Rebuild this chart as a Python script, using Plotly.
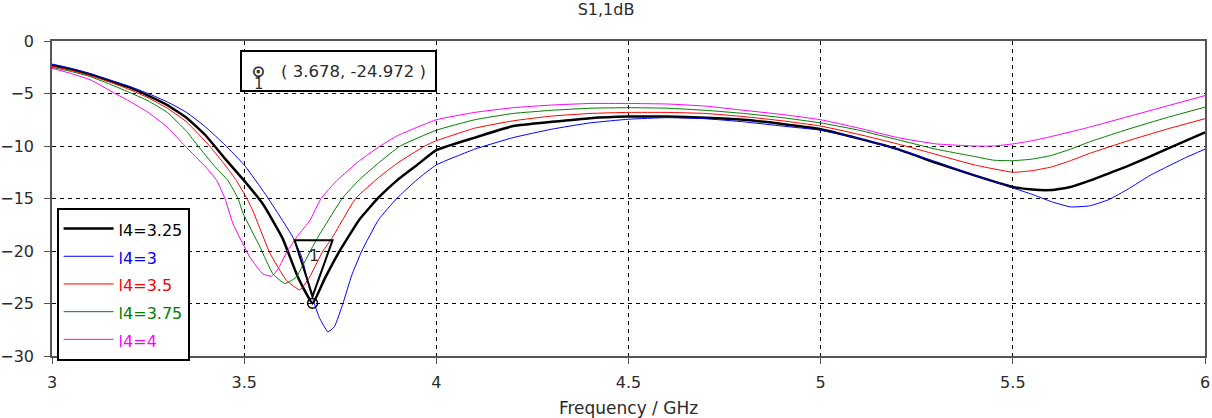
import plotly.graph_objects as go

# S11 sweeps over l4
freq_325 = [3.0, 3.05, 3.1, 3.15, 3.2, 3.25, 3.3, 3.35, 3.4, 3.45, 3.5, 3.55, 3.6, 3.64, 3.678, 3.71, 3.75, 3.8, 3.85, 3.9, 3.95, 4.0,
            4.1, 4.2, 4.3, 4.4, 4.5, 4.6, 4.7, 4.8, 4.9, 5.0, 5.1, 5.2, 5.3, 5.4, 5.5, 5.55, 5.6, 5.65, 5.7, 5.75, 5.8, 5.9, 6.0]
s11_325 = [-2.3, -2.7, -3.2, -3.8, -4.4, -5.2, -6.1, -7.3, -9.0, -11.2, -13.3, -15.6, -18.8, -22.5, -24.972, -22.6, -19.9, -17.0, -14.9, -13.2, -11.8, -10.4,
           -9.2, -8.1, -7.7, -7.35, -7.2, -7.2, -7.3, -7.5, -7.9, -8.4, -9.3, -10.3, -11.6, -12.8, -13.9, -14.15, -14.2, -13.9, -13.3, -12.6, -11.9, -10.3, -8.7]

freq_3 = [3.0, 3.05, 3.1, 3.15, 3.2, 3.25, 3.3, 3.35, 3.4, 3.45, 3.5, 3.54, 3.56, 3.6, 3.627, 3.65, 3.671, 3.695, 3.718, 3.735, 3.757, 3.78, 3.806,
          3.85, 3.897, 3.95, 4.0, 4.1, 4.2, 4.3, 4.4, 4.5, 4.6, 4.7, 4.8, 4.9, 5.0, 5.1, 5.2, 5.3, 5.4, 5.5, 5.55, 5.6, 5.65, 5.7, 5.75, 5.8, 5.857, 5.9, 5.95, 6.0]
s11_3 = [-2.2, -2.6, -3.1, -3.7, -4.3, -5.0, -5.8, -6.8, -8.2, -9.9, -11.8, -13.8, -14.85, -17.1, -18.7, -20.6, -23.7, -26.3, -27.7, -27.2, -25.0, -22.3, -20.0,
         -17.0, -15.0, -13.2, -11.8, -10.3, -9.2, -8.4, -7.8, -7.45, -7.3, -7.4, -7.7, -8.1, -8.5, -9.3, -10.3, -11.5, -12.8, -14.0, -14.6, -15.3, -15.8, -15.7, -15.1, -14.1, -12.8, -12.0, -11.1, -10.3]

freq_35 = [3.0, 3.05, 3.1, 3.15, 3.2, 3.25, 3.3, 3.35, 3.41, 3.45, 3.48, 3.507, 3.523, 3.567, 3.61, 3.645, 3.67, 3.705, 3.728, 3.79, 3.85, 3.9, 3.97, 4.0,
           4.1, 4.2, 4.3, 4.4, 4.5, 4.6, 4.7, 4.8, 4.9, 5.0, 5.1, 5.2, 5.3, 5.4, 5.5, 5.55, 5.6, 5.65, 5.7, 5.8, 5.9, 6.0]
s11_35 = [-2.4, -2.8, -3.3, -3.9, -4.6, -5.4, -6.4, -7.7, -10.0, -11.8, -13.3, -15.0, -16.2, -20.2, -22.8, -23.7, -22.5, -20.0, -18.8, -15.0, -13.0, -11.6, -10.0, -9.5,
          -8.3, -7.6, -7.15, -6.9, -6.8, -6.8, -6.9, -7.2, -7.6, -8.1, -8.9, -9.8, -10.8, -11.8, -12.5, -12.35, -12.0, -11.4, -10.7, -9.5, -8.4, -7.4]

freq_375 = [3.0, 3.05, 3.1, 3.15, 3.208, 3.25, 3.3, 3.35, 3.38, 3.42, 3.458, 3.484, 3.497, 3.541, 3.575, 3.606, 3.635, 3.672, 3.69, 3.755, 3.8, 3.85, 3.906, 4.0,
            4.1, 4.2, 4.3, 4.4, 4.5, 4.6, 4.7, 4.8, 4.9, 5.0, 5.1, 5.2, 5.3, 5.4, 5.45, 5.5, 5.55, 5.6, 5.65, 5.7, 5.8, 5.9, 6.0]
s11_375 = [-2.5, -2.9, -3.4, -4.1, -5.0, -5.7, -6.8, -8.6, -10.0, -11.8, -13.3, -15.0, -16.4, -19.6, -22.2, -23.1, -22.5, -20.0, -18.8, -15.0, -13.2, -11.6, -10.0, -8.5,
           -7.5, -6.9, -6.6, -6.4, -6.35, -6.4, -6.6, -6.9, -7.3, -7.8, -8.5, -9.4, -10.3, -11.0, -11.35, -11.4, -11.25, -10.9, -10.3, -9.6, -8.4, -7.3, -6.3]

freq_4 = [3.0, 3.05, 3.1, 3.164, 3.2, 3.25, 3.3, 3.346, 3.4, 3.429, 3.45, 3.471, 3.515, 3.549, 3.572, 3.59, 3.611, 3.64, 3.671, 3.7, 3.741, 3.8, 3.854, 3.9, 4.0,
          4.1, 4.2, 4.3, 4.4, 4.5, 4.6, 4.7, 4.8, 4.9, 5.0, 5.1, 5.2, 5.3, 5.4, 5.45, 5.5, 5.55, 5.6, 5.7, 5.8, 5.9, 6.0]
s11_4 = [-2.6, -3.1, -3.7, -5.0, -5.7, -6.8, -8.2, -10.0, -12.0, -13.3, -15.0, -17.4, -20.6, -22.2, -22.4, -21.6, -20.1, -18.5, -17.1, -15.0, -13.3, -11.4, -10.0, -9.0, -7.5,
         -6.8, -6.35, -6.1, -5.95, -5.95, -6.0, -6.2, -6.6, -7.0, -7.5, -8.3, -9.2, -9.8, -10.0, -10.0, -9.8, -9.5, -9.1, -8.2, -7.2, -6.2, -5.2]

series = [
    ("l4=3.25", freq_325, s11_325, "black", 2.5),
    ("l4=3", freq_3, s11_3, "#0000ff", 1),
    ("l4=3.5", freq_35, s11_35, "#ff0000", 1),
    ("l4=3.75", freq_375, s11_375, "#008000", 1),
    ("l4=4", freq_4, s11_4, "#ff00ff", 1),
]

marker_f = 3.678
marker_db = -24.972

FONT = "DejaVu Sans"
TXT = "#2b2b2b"

fig = go.Figure()
for name, f, s, col, w in series:
    # legend font is set large for row spacing, the visible label is smaller
    label = f"<span style='font-size:16px;color:{col}'>{name}</span>"
    fig.add_trace(go.Scatter(x=f, y=s, mode="lines", name=label,
                             line=dict(color=col, width=w, shape="spline", smoothing=0.4)))

# marker 1 point
fig.add_trace(go.Scatter(x=[marker_f], y=[marker_db], mode="markers", showlegend=False,
                         marker=dict(symbol="circle-open-dot", size=10, color="black", line=dict(width=1.5, color="black"))))

# triangle flag above the marker, drawn in pixel offsets from the marker point
fig.add_shape(type="path", xref="x", yref="y", xsizemode="pixel", ysizemode="pixel",
              xanchor=marker_f, yanchor=marker_db, path="M -18,63 L 20,63 L 0,7 Z",
              line=dict(color="black", width=2), fillcolor="rgba(255,255,255,0)")
fig.add_annotation(x=marker_f, y=marker_db, text="1", showarrow=False, yshift=48, xshift=1,
                   font=dict(family=FONT, size=16, color=TXT))

# readout box
fig.add_annotation(xref="paper", yref="paper", x=0.163, y=0.971, xanchor="left", yanchor="top",
                   text=f"<b>⊙</b>   ( {marker_f:.3f}, {marker_db:.3f} )", showarrow=False, align="left",
                   bordercolor="black", borderwidth=2, borderpad=9.5, bgcolor="white",
                   font=dict(family=FONT, size=16.5, color=TXT))
fig.add_annotation(xref="paper", yref="paper", x=0.1795, y=0.862, xanchor="center", yanchor="middle",
                   text="1", showarrow=False, font=dict(family=FONT, size=15, color=TXT))

axis_common = dict(showline=True, linecolor="#555", linewidth=1.5, mirror=True, ticks="outside", ticklen=6,
                   tickcolor="#555", showgrid=True, gridcolor="black", gridwidth=1, griddash="4px,4px",
                   zeroline=False, automargin=False, ticklabeloverflow="allow",
                   tickfont=dict(family=FONT, size=16, color=TXT))

fig.update_layout(
    width=1212, height=418,
    margin=dict(l=52, r=7, t=41, b=62),
    paper_bgcolor="white", plot_bgcolor="white",
    title=dict(text="S1,1dB", x=0.5, xanchor="center", y=0.99, yanchor="top",
               font=dict(family=FONT, size=16, color=TXT)),
    xaxis=dict(range=[3, 6], dtick=0.5, ticklabelstandoff=5,
               title=dict(text="Frequency / GHz", font=dict(family=FONT, size=17, color=TXT)), **axis_common),
    yaxis=dict(range=[-30, 0], dtick=5, ticklabelstandoff=7, **axis_common),
    legend=dict(x=0.004, y=-0.015, xanchor="left", yanchor="bottom", bgcolor="white",
                bordercolor="black", borderwidth=2, font=dict(family=FONT, size=19, color=TXT),
                tracegroupgap=0, itemwidth=50),
    showlegend=True,
)

# the page body has a default 8px margin; drop it so the figure sits at the window corner
fig.write_html("out.html", config={"displayModeBar": False},
               post_script="document.body.style.margin='0px';")
